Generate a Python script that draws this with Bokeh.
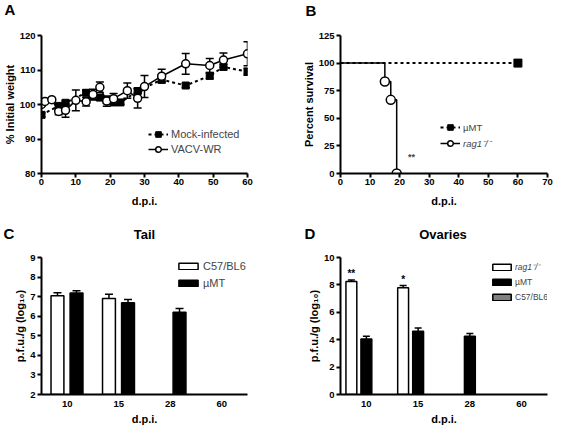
from bokeh.plotting import figure
from bokeh.models import (Range1d, FactorRange, FixedTicker, Legend, LegendItem,
                          Label, ColumnDataSource)
from bokeh.transform import dodge
from bokeh.layouts import row, column
from bokeh.embed import file_html
from bokeh.resources import INLINE
from bokeh.core.properties import value

FONT = "Liberation Sans"
NAN = float("nan")

# ---------------- Panel A data (weight) ----------------
A_days_mock = [0, 5, 7, 13, 15, 17, 19, 21, 23, 28, 35, 42, 49, 53, 60]
A_mock = [97.0, 99.6, 100.5, 103.4, 102.3, 102.0, 101.2, 100.6, 100.6, 103.9, 107.2, 105.5, 108.3, 110.9, 109.5]
A_mock_err = [0.6, 0.6, 0.6, 0.8, 0.8, 0.8, 0.8, 0.6, 0.6, 0.8, 0.6, 0.6, 0.8, 0.8, 1.0]
A_days_vacv = [0, 1, 3, 5, 7, 10, 13, 15, 17, 19, 21, 25, 28, 30, 35, 42, 49, 53, 60]
A_vacv = [100.0, 100.9, 101.4, 98.0, 98.3, 101.2, 100.8, 102.9, 105.0, 101.0, 101.7, 104.0, 101.8, 105.2, 108.2, 111.8, 111.3, 112.9, 114.7]
A_vacv_err = [0.5, 0.5, 0.5, 1.0, 2.0, 3.0, 1.2, 1.5, 1.5, 1.5, 1.5, 2.2, 2.8, 3.2, 2.0, 3.0, 2.0, 2.0, 3.5]
A_xticks = [0, 10, 20, 30, 40, 50, 60]
A_yticks = [80, 90, 100, 110, 120]

# ---------------- Panel B data (survival) ----------------
B_mu_days = [0, 60]
B_mu_surv = [100, 100]
B_rag_days = [0, 15, 17, 19]
B_rag_surv = [100, 83.3, 66.7, 0]
B_xticks = [0, 10, 20, 30, 40, 50, 60, 70]
B_yticks = [0, 25, 50, 75, 100, 125]

# ---------------- Panel C data (tail titres) ----------------
C_cats = ["10", "15", "28", "60"]
C_c57 = [7.05, 6.90, None, None]
C_c57_err = [0.15, 0.22, None, None]
C_mu = [7.18, 6.69, 6.20, None]
C_mu_err = [0.12, 0.16, 0.20, None]
C_yticks = [2, 3, 4, 5, 6, 7, 8, 9]

# ---------------- Panel D data (ovary titres) ----------------
D_cats = ["10", "15", "28", "60"]
D_rag = [8.25, 7.80, None, None]
D_rag_err = [0.10, 0.15, None, None]
D_rag_sig = ["**", "*", None, None]
D_mu = [4.06, 4.62, 4.26, None]
D_mu_err = [0.20, 0.23, 0.20, None]
D_c57 = [None, None, None, None]
D_c57_err = [None, None, None, None]
D_yticks = [0, 2, 4, 6, 8, 10]

# panel letters and titles
TOP_TEXTS = [("A", 4, "left", "15px"), ("B", 305, "left", "15px")]
BOTTOM_TEXTS = [("C", 3, "left", "15px"), ("Tail", 144, "center", "13px"),
                ("D", 304, "left", "15px"), ("Ovaries", 442.5, "center", "13px")]


def header(width, height, texts, ys):
    h = figure(width=width, height=height, x_range=Range1d(0, width),
               y_range=Range1d(height, 0), output_backend="svg", toolbar_location=None,
               min_border=0, x_axis_location=None, y_axis_location=None)
    h.outline_line_color = None
    h.grid.visible = False
    for (t, x, align, size), y in zip(texts, ys):
        h.add_layout(Label(x=x, y=y, text=t, text_font=FONT, text_font_size=size,
                           text_font_style="bold", text_align=align,
                           text_baseline="middle", text_color="black"))
    return h


def style(p):
    p.outline_line_color = None
    p.grid.visible = False
    p.background_fill_color = "white"
    for ax in p.axis:
        ax.axis_line_width = 2
        ax.axis_line_color = "black"
        ax.major_tick_line_width = 2
        ax.major_tick_line_color = "black"
        ax.major_tick_out = 4
        ax.major_tick_in = 0
        ax.minor_tick_line_color = None
        ax.major_label_standoff = 2
        ax.axis_label_standoff = 1
        ax.major_label_text_font = FONT
        ax.major_label_text_font_style = "bold"
        ax.major_label_text_font_size = "9.5px"
        ax.major_label_text_color = "black"
        ax.axis_label_text_font = FONT
        ax.axis_label_text_font_style = "bold"
        ax.axis_label_text_font_size = "11px"
        ax.axis_label_text_color = "black"
    p.xaxis.major_label_standoff = 1
    p.xaxis.axis_label_standoff = 7


def legend(items, loc, italic=False, gw=20, gh=14, size="11px", standoff=3):
    return Legend(items=items, location=loc, padding=0, margin=0, spacing=1,
                  glyph_width=gw, glyph_height=gh, label_height=10, label_standoff=standoff,
                  background_fill_alpha=0, border_line_color=None,
                  label_text_font=FONT, label_text_font_size=size,
                  label_text_font_style="italic" if italic else "normal")


# ================= Panel A =================
pA = figure(width=280, height=186, x_range=Range1d(0, 60), y_range=Range1d(80, 120),
            output_backend="svg", toolbar_location=None,
            min_border_left=41, min_border_right=33, min_border_top=11, min_border_bottom=37)
style(pA)
pA.xaxis.ticker = FixedTicker(ticks=A_xticks)
pA.yaxis.ticker = FixedTicker(ticks=A_yticks)
pA.xaxis.axis_label = "d.p.i."
pA.yaxis.axis_label = "% Initial weight"

mock_line = pA.line(A_days_mock, A_mock, line_dash="3 3", line_width=2, color="black")
vacv_line = pA.line(A_days_vacv, A_vacv, line_width=1.5, color="black")
for days, vals, errs in ((A_days_mock, A_mock, A_mock_err), (A_days_vacv, A_vacv, A_vacv_err)):
    lo = [v - e for v, e in zip(vals, errs)]
    hi = [v + e for v, e in zip(vals, errs)]
    pA.segment(x0=days, y0=lo, x1=days, y1=hi, line_width=1.5, color="black")
    pA.scatter(x=days, y=hi, marker="dash", size=8, line_width=1.5, color="black")
    pA.scatter(x=days, y=lo, marker="dash", size=8, line_width=1.5, color="black")
mock_sq = pA.scatter(A_days_mock, A_mock, marker="square", size=7, color="black")
vacv_c = pA.scatter(A_days_vacv, A_vacv, marker="circle", size=8, fill_color="white",
                    line_color="black", line_width=1.5)
pA.add_layout(legend([LegendItem(label="Mock-infected", renderers=[mock_line, mock_sq]),
                      LegendItem(label="VACV-WR", renderers=[vacv_line, vacv_c])],
                     (107, 17), gh=14))

# ================= Panel B =================
pB = figure(width=283, height=186, x_range=Range1d(0, 70), y_range=Range1d(0, 125),
            output_backend="svg", toolbar_location=None,
            min_border_left=60, min_border_right=16, min_border_top=11, min_border_bottom=37)
style(pB)
pB.xaxis.ticker = FixedTicker(ticks=B_xticks)
pB.yaxis.ticker = FixedTicker(ticks=B_yticks)
pB.xaxis.axis_label = "d.p.i."
pB.yaxis.axis_label = "Percent survival"

rag_line = pB.step(B_rag_days, B_rag_surv, mode="after", line_width=1.5, color="black")
mu_line = pB.line(B_mu_days, B_mu_surv, line_dash="3 3", line_width=2, color="black")
rag_c = pB.scatter(B_rag_days[1:], B_rag_surv[1:], marker="circle", size=9,
                   fill_color="white", line_color="black", line_width=1.5)
mu_sq = pB.scatter(B_mu_days[-1:], B_mu_surv[-1:], marker="square", size=8, color="black")
pB.add_layout(legend([LegendItem(label="\u00b5MT", renderers=[mu_line, mu_sq])], (100, 39),
                     size="9.5px"))
pB.add_layout(legend([LegendItem(label="rag1\u207b/\u207b", renderers=[rag_line, rag_c])],
                     (100, 23), italic=True, size="9.5px"))
pB.add_layout(Label(x=24, y=15, text="**", text_font=FONT, text_font_size="9px",
                    text_font_style="bold", text_align="center", text_baseline="middle"))


# ================= bar helpers =================
def bar_source(cats, vals, errs, extra=None):
    d = dict(cat=list(cats),
             top=[NAN if v is None else v for v in vals],
             upper=[NAN if v is None else v + e for v, e in zip(vals, errs)])
    if extra is not None:
        d["sig"] = [s if s else "" for s in extra]
    return ColumnDataSource(d)


def bars(p, src, off, width, fill, base, cap):
    r = p.vbar(x=dodge("cat", off, range=p.x_range), top="top", bottom=base, width=width,
               source=src, fill_color=fill, line_color="black", line_width=1.5)
    p.segment(x0=dodge("cat", off, range=p.x_range), y0="top",
              x1=dodge("cat", off, range=p.x_range), y1="upper",
              source=src, line_width=1.5, color="black")
    p.scatter(x=dodge("cat", off, range=p.x_range), y="upper", marker="dash", size=cap,
              line_width=1.5, color="black", source=src)
    return r


def bar_style(p):
    style(p)
    p.xaxis.major_tick_line_color = None
    p.xaxis.major_tick_out = 0
    p.xaxis.major_label_standoff = 6
    p.xaxis.axis_label_standoff = 3
    p.xaxis.axis_label = "d.p.i."
    p.yaxis.axis_label = "p.f.u./g (log\u2081\u2080)"


# ================= Panel C =================
pC = figure(width=280, height=180, x_range=FactorRange(factors=C_cats),
            y_range=Range1d(C_yticks[0], C_yticks[-1]),
            output_backend="svg", toolbar_location=None,
            min_border_left=41, min_border_right=33, min_border_top=10, min_border_bottom=33)
bar_style(pC)
pC.yaxis.ticker = FixedTicker(ticks=C_yticks)
c57_src = bar_source(C_cats, C_c57, C_c57_err)
cmu_src = bar_source(C_cats, C_mu, C_mu_err)
c57_r = bars(pC, c57_src, -0.19, 0.25, "white", C_yticks[0], 8)
cmu_r = bars(pC, cmu_src, 0.18, 0.25, "black", C_yticks[0], 8)
pC.add_layout(legend([LegendItem(label="C57/BL6", renderers=[c57_r])], (135, 122), gw=24, gh=8))
pC.add_layout(legend([LegendItem(label="\u00b5MT", renderers=[cmu_r])], (135, 105), gw=24, gh=8))

# ================= Panel D =================
pD = figure(width=283, height=180, x_range=FactorRange(factors=D_cats),
            y_range=Range1d(D_yticks[0], D_yticks[-1]),
            output_backend="svg", toolbar_location=None,
            min_border_left=60, min_border_right=16, min_border_top=10, min_border_bottom=33)
bar_style(pD)
pD.yaxis.ticker = FixedTicker(ticks=D_yticks)
drag_src = bar_source(D_cats, D_rag, D_rag_err, extra=D_rag_sig)
dmu_src = bar_source(D_cats, D_mu, D_mu_err)
dc57_src = bar_source(D_cats, D_c57, D_c57_err)
drag_r = bars(pD, drag_src, -0.29, 0.21, "white", D_yticks[0], 7)
dmu_r = bars(pD, dmu_src, 0.0, 0.21, "black", D_yticks[0], 7)
dc57_r = bars(pD, dc57_src, 0.29, 0.21, "#808080", D_yticks[0], 7)
pD.text(x=dodge("cat", -0.29, range=pD.x_range), y="upper", text="sig", source=drag_src,
        text_font=value(FONT), text_font_size="10px", text_font_style="bold",
        text_align="center", text_baseline="bottom", y_offset=-1)
pD.add_layout(legend([LegendItem(label="rag1\u207b/\u207b", renderers=[drag_r])], (150, 122),
                     italic=True, gw=23, gh=8, size="8.5px", standoff=2))
pD.add_layout(legend([LegendItem(label="\u00b5MT", renderers=[dmu_r])], (150, 107),
                     gw=23, gh=8, size="8.5px", standoff=2))
pD.add_layout(legend([LegendItem(label="C57/BL6", renderers=[dc57_r])], (150, 92),
                     gw=23, gh=8, size="8.5px", standoff=2))

hTop = header(563, 24, TOP_TEXTS, [9, 9.5])
hBot = header(563, 37, BOTTOM_TEXTS, [22.5, 24, 22.5, 24])

layout = column(hTop, row(pA, pB), hBot, row(pC, pD))
open("out.html", "w").write(file_html(layout, INLINE))
